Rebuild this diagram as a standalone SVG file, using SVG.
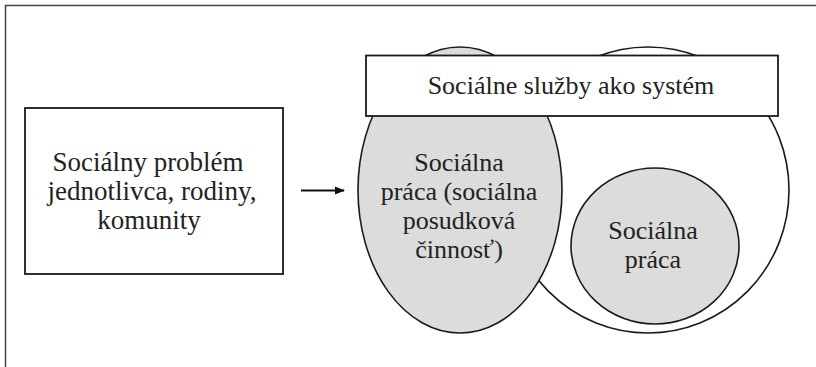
<svg xmlns="http://www.w3.org/2000/svg" width="816" height="367" viewBox="0 0 816 367">
  <defs>
    <style>
      .frame { fill: none; stroke: #444; stroke-width: 1.5; }
      .box { fill: #fff; stroke: #1a1a1a; stroke-width: 1.8; }
      .gray { fill: #dcdcdc; stroke: #1a1a1a; stroke-width: 1.6; }
      .white { fill: #fff; stroke: #1a1a1a; stroke-width: 1.6; }
      .t { font-family: "Liberation Serif", "DejaVu Serif", serif; font-size: 26px; fill: #222; text-anchor: middle; }
      .t2 { font-size: 27px; }
      .conn { stroke: #111; stroke-width: 1.8; fill: none; }
    </style>
    <marker id="arrow" viewBox="0 0 10 10" refX="9" refY="5" markerWidth="10" markerHeight="9" markerUnits="userSpaceOnUse" orient="auto" preserveAspectRatio="none">
      <path d="M0,0.5 L10,5 L0,9.5 z" fill="#111"/>
    </marker>
  </defs>

  <path class="frame" d="M5.5,367 V5.5 H816"/>

  <g id="system-outer">
    <ellipse class="white" cx="648" cy="190" rx="141" ry="143"/>
  </g>

  <g id="socialna-praca">
    <ellipse class="gray" cx="655" cy="246" rx="84" ry="78"/>
    <text class="t" x="653" y="239">Sociálna</text>
    <text class="t" x="653" y="268">práca</text>
  </g>

  <g id="socialna-praca-posudkova">
    <ellipse class="gray" cx="460" cy="190" rx="102" ry="143"/>
    <text class="t" x="459" y="171">Sociálna</text>
    <text class="t" x="459" y="200">práca (sociálna</text>
    <text class="t" x="459" y="229">posudková</text>
    <text class="t" x="459" y="258">činnosť)</text>
  </g>

  <g id="socialne-sluzby">
    <rect class="box" x="366" y="55.5" width="412" height="60.5"/>
    <text class="t" x="571" y="94">Sociálne služby ako systém</text>
  </g>

  <g id="socialny-problem">
    <rect class="box" x="25" y="108" width="258" height="166"/>
    <text class="t t2" x="148" y="171">Sociálny problém</text>
    <text class="t t2" x="152" y="200">jednotlivca, rodiny,</text>
    <text class="t t2" x="149" y="229">komunity</text>
  </g>

  <g id="connectors">
    <line class="conn" x1="301" y1="190.5" x2="344" y2="190.5" marker-end="url(#arrow)"/>
  </g>
</svg>
